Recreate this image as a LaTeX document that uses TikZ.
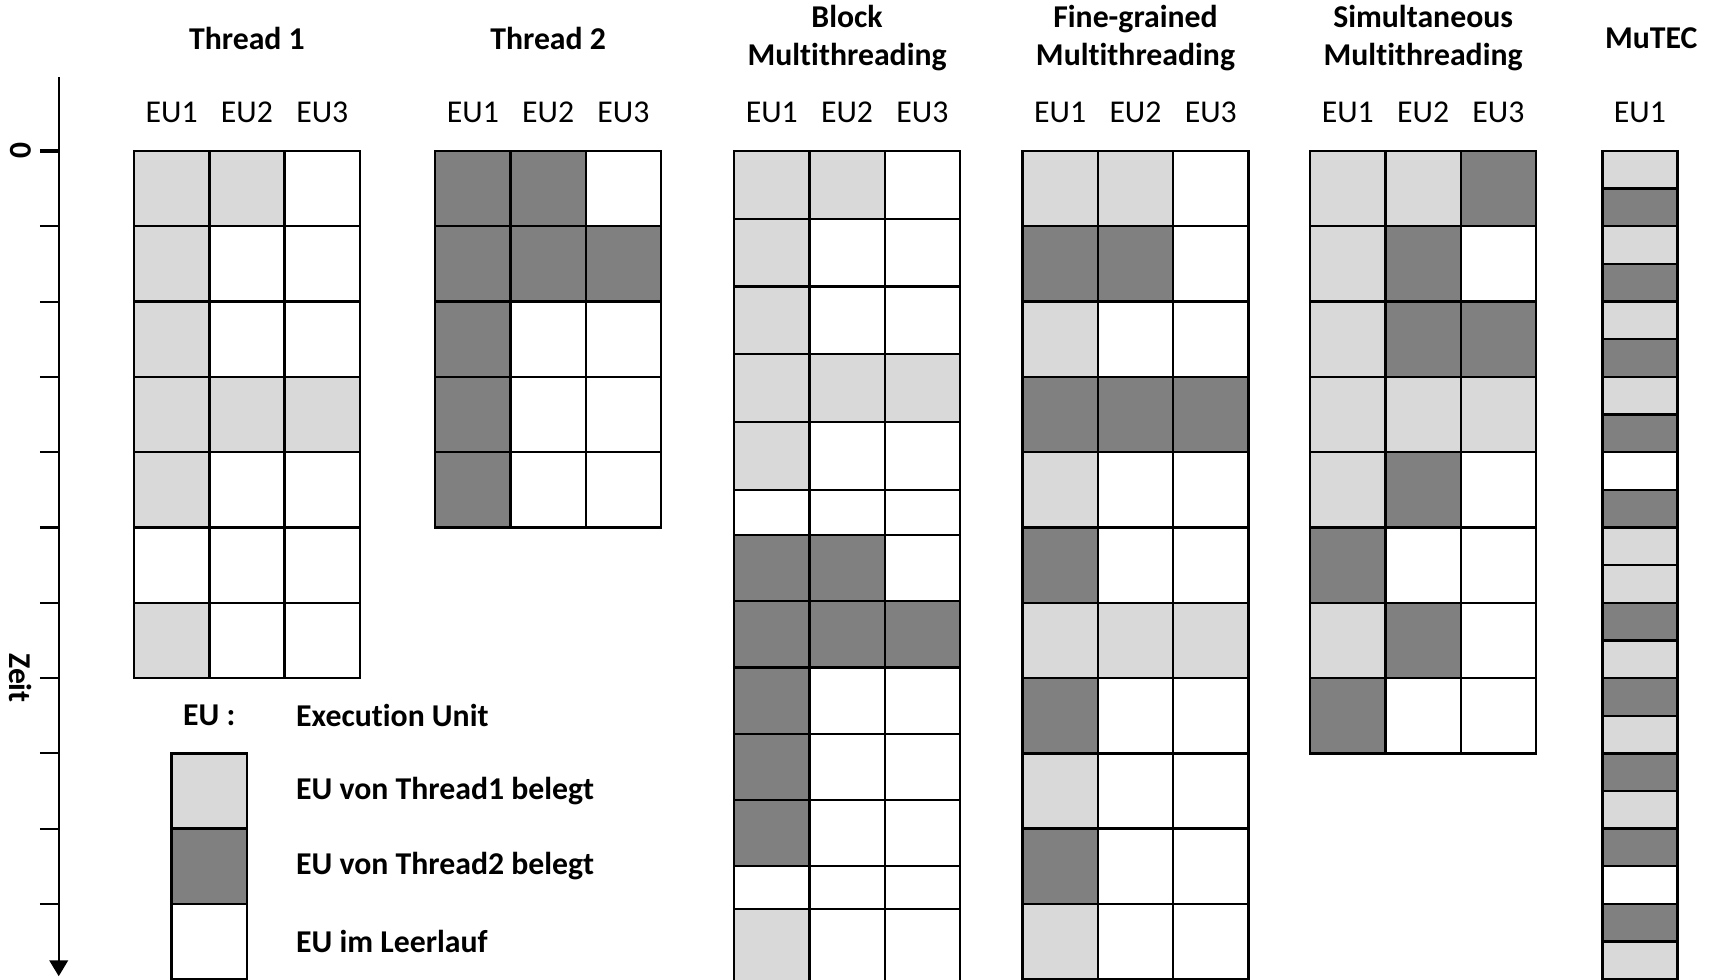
\documentclass[tikz,border=0pt]{standalone}
\usepackage{fontspec}
\setmainfont{Carlito}[Ligatures={NoCommon,NoContextual,NoRare},Contextuals=NoAlternate]
\usetikzlibrary{arrows.meta,positioning}
\definecolor{busyA}{HTML}{D9D9D9}
\definecolor{busyB}{HTML}{808080}
\newcommand{\nolig}{\kern0pt{}}

\begin{document}
\begin{tikzpicture}[font=\fontsize{12}{14.5}\selectfont]
  \tikzset{cell/.style={draw,line width=.9pt,minimum width=1cm,minimum height=1cm,inner sep=0pt},
    ta/.style={fill=busyA}, tb/.style={fill=busyB}, idle/.style={fill=white},
    head/.style={font=\fontsize{12}{14.5}\selectfont\bfseries,align=center}}
  \useasboundingbox (-1.78,2.005) rectangle (20.97,-11.01);
  \clip (-1.78,2.005) rectangle (20.97,-11.01);
  % time axis
  \coordinate (ax-top) at (-1,.98);
  \coordinate (ax-end) at (-1,-10.96);
  \draw[line width=.8pt,-{Triangle[width=7pt,length=6pt]}] (ax-top) -- (ax-end);
  \foreach \t in {1,...,10} \draw[line width=.8pt] (-1.25,-\t) -- (-1,-\t);
  \draw[line width=1.6pt] (-1.25,0) -- (-1,0);
  \node[head,rotate=-90] (zero) at (-1.51,0) {0};
  \node[head,rotate=-90] (zeit) at (-1.51,-7) {Zeit};
  % Thread 1
  \node[head] (h-th1) at (1.5,1.5) {Thread 1};
  \foreach \c in {1,2,3} \node (th1-eu\c) at (\c-.5,.51) {EU\c};
  \foreach \a/\b/\c [count=\r] in {ta/ta/idle,ta/idle/idle,ta/idle/idle,ta/ta/ta,
      ta/idle/idle,idle/idle/idle,ta/idle/idle} {
    \node[cell,\a] (th1-\r-1) at (.5,.5-\r) {};
    \node[cell,\b] (th1-\r-2) at (1.5,.5-\r) {};
    \node[cell,\c] (th1-\r-3) at (2.5,.5-\r) {};
  }
  % Thread 2
  \begin{scope}[xshift=4cm]
    \node[head] (h-th2) at (1.5,1.5) {Thread 2};
    \foreach \c in {1,2,3} \node (th2-eu\c) at (\c-.5,.51) {EU\c};
    \foreach \a/\b/\c [count=\r] in {tb/tb/idle,tb/tb/tb,tb/idle/idle,tb/idle/idle,tb/idle/idle} {
      \node[cell,\a] (th2-\r-1) at (.5,.5-\r) {};
      \node[cell,\b] (th2-\r-2) at (1.5,.5-\r) {};
      \node[cell,\c] (th2-\r-3) at (2.5,.5-\r) {};
    }
  \end{scope}
  % Block multithreading
  \begin{scope}[xshift=7.97cm]
    \node[head] (h-bm) at (1.5,1.5) {Block\\Mult\nolig ithreading};
    \foreach \c in {1,2,3} \node (bm-eu\c) at (\c-.5,.51) {EU\c};
    \foreach \a/\b/\c/\y/\h [count=\r] in {ta/ta/idle/-.45/.9,ta/idle/idle/-1.35/.9,
        ta/idle/idle/-2.25/.9,ta/ta/ta/-3.15/.9,ta/idle/idle/-4.05/.9,idle/idle/idle/-4.8/.6,
        tb/tb/idle/-5.54/.88,tb/tb/tb/-6.42/.88,tb/idle/idle/-7.3/.88,tb/idle/idle/-8.18/.88,
        tb/idle/idle/-9.06/.88,idle/idle/idle/-9.785/.57,ta/idle/idle/-10.67/1.2} {
      \node[cell,\a,minimum height=\h cm] (bm-\r-1) at (.5,\y) {};
      \node[cell,\b,minimum height=\h cm] (bm-\r-2) at (1.5,\y) {};
      \node[cell,\c,minimum height=\h cm] (bm-\r-3) at (2.5,\y) {};
    }
  \end{scope}
  % Fine-grained multithreading
  \begin{scope}[xshift=11.8cm]
    \node[head] (h-fg) at (1.5,1.5) {Fine-grained\\Mult\nolig ithreading};
    \foreach \c in {1,2,3} \node (fg-eu\c) at (\c-.5,.51) {EU\c};
    \foreach \a/\b/\c [count=\r] in {ta/ta/idle,tb/tb/idle,ta/idle/idle,tb/tb/tb,
        ta/idle/idle,tb/idle/idle,ta/ta/ta,tb/idle/idle,ta/idle/idle,tb/idle/idle,ta/idle/idle} {
      \node[cell,\a] (fg-\r-1) at (.5,.5-\r) {};
      \node[cell,\b] (fg-\r-2) at (1.5,.5-\r) {};
      \node[cell,\c] (fg-\r-3) at (2.5,.5-\r) {};
    }
  \end{scope}
  % Simultaneous multithreading
  \begin{scope}[xshift=15.62cm]
    \node[head] (h-smt) at (1.5,1.5) {Simultaneous\\Mult\nolig ithreading};
    \foreach \c in {1,2,3} \node (smt-eu\c) at (\c-.5,.51) {EU\c};
    \foreach \a/\b/\c [count=\r] in {ta/ta/tb,ta/tb/idle,ta/tb/tb,ta/ta/ta,
        ta/tb/idle,tb/idle/idle,ta/tb/idle,tb/idle/idle} {
      \node[cell,\a] (smt-\r-1) at (.5,.5-\r) {};
      \node[cell,\b] (smt-\r-2) at (1.5,.5-\r) {};
      \node[cell,\c] (smt-\r-3) at (2.5,.5-\r) {};
    }
  \end{scope}
  % MuTEC
  \begin{scope}[xshift=19.5cm]
    \node[head] (h-mu) at (.65,1.5) {MuTEC};
    \node (mu-eu1) at (.5,.51) {EU1};
    \foreach \a [count=\r] in {ta,tb,ta,tb,ta,tb,ta,tb,idle,tb,ta,
        ta,tb,ta,tb,ta,tb,ta,tb,idle,tb,ta}
      \node[cell,\a,minimum height=.5cm] (mu-\r) at (.5,.25-.5*\r) {};
  \end{scope}
  % legend
  \node[head] (lg-eu) at (1,-7.5) {EU :};
  \node[head,anchor=west] (lg-eu-txt) at (2.03,-7.5) {Execut\nolig ion Unit};
  \node[cell,ta] (lg-a) at (1,-8.5) {};
  \node[cell,tb] (lg-b) at (1,-9.5) {};
  \node[cell,idle] (lg-c) at (1,-10.5) {};
  \node[head,anchor=west] (lg-a-txt) at (2.03,-8.5) {EU von Thread1 belegt};
  \node[head,anchor=west] (lg-b-txt) at (2.03,-9.5) {EU von Thread2 belegt};
  \node[head,anchor=west] (lg-c-txt) at (2.03,-10.5) {EU im Leerlauf};
\end{tikzpicture}
\end{document}
